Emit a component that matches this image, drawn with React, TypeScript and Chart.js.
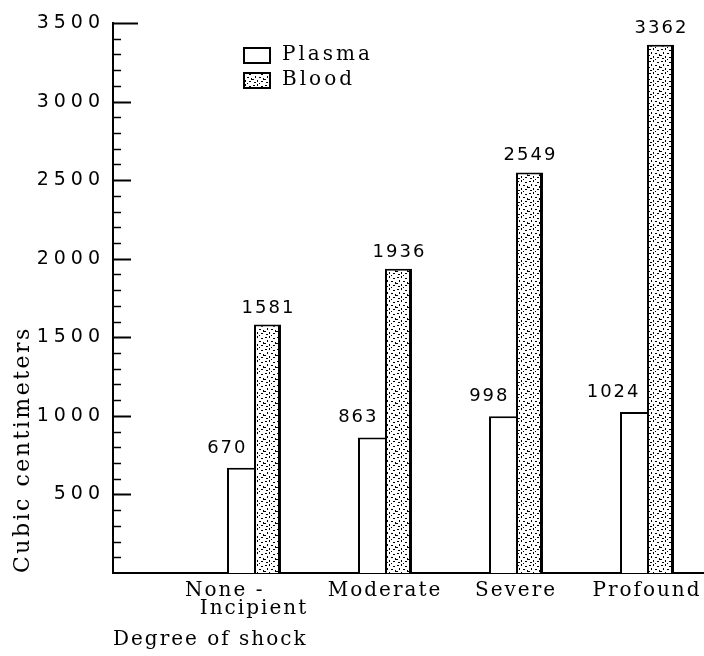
import { useEffect, useRef } from 'react';
import { Chart, registerables } from 'chart.js';

Chart.register(...registerables);

const CATEGORIES = ['None-Incipient', 'Moderate', 'Severe', 'Profound'];
const CATEGORY_TICK_LABELS: (string | string[])[] = [['None -       ', 'Incipient'], 'Moderate', 'Severe', 'Profound'];
const CATEGORY_POSITIONS = [1, 2, 3, 4];
const PLASMA = [670, 863, 998, 1024];
const BLOOD = [1581, 1936, 2549, 3362];
const SERIES_NAMES = ['Plasma', 'Blood'];
const Y_TICK_LABELS = [500, 1000, 1500, 2000, 2500, 3000, 3500];
const Y_TITLE = 'Cubic centimeters';
const X_TITLE = 'Degree of shock';

const SERIF = 'DejaVu Serif';
const SANS = 'DejaVu Sans';

function makeStipple(ctx: CanvasRenderingContext2D): CanvasPattern | string {
  const c = document.createElement('canvas');
  c.width = 12;
  c.height = 12;
  const g = c.getContext('2d');
  if (!g) return '#ccc';
  g.fillStyle = '#fff';
  g.fillRect(0, 0, 12, 12);
  g.fillStyle = '#000';
  const dots: [number, number, number, number][] = [
    [1, 1, 2, 1], [5, 0, 1, 2], [9, 2, 2, 1], [3, 4, 1, 2], [7, 5, 2, 1],
    [11, 6, 1, 2], [0, 7, 2, 1], [5, 8, 1, 2], [9, 9, 2, 1], [2, 10, 2, 1], [7, 11, 1, 1],
  ];
  for (const [x, y, w, h] of dots) g.fillRect(x, y, w, h);
  return ctx.createPattern(c, 'repeat') || '#ccc';
}

// wrap a scale's label/title drawing so each can use its own letter spacing
function spaceScale(s: any, labelSpacing: string, titleSpacing: string) {
  if (s.__spaced) return;
  s.__spaced = true;
  const dl = s.drawLabels.bind(s);
  const dt = s.drawTitle.bind(s);
  s.drawLabels = (a: any) => {
    s.ctx.save();
    s.ctx.letterSpacing = labelSpacing;
    dl(a);
    s.ctx.restore();
  };
  s.drawTitle = (a: any) => {
    s.ctx.save();
    s.ctx.letterSpacing = titleSpacing;
    dt(a);
    s.ctx.restore();
  };
}

export default function App() {
  const ref = useRef<HTMLCanvasElement | null>(null);

  useEffect(() => {
    const canvas = ref.current;
    if (!canvas) return;
    const ctx = canvas.getContext('2d');
    if (!ctx) return;
    const stipple = makeStipple(ctx);
    const fills = ['#ffffff', stipple];

    const tickMarks = {
      id: 'tickMarks',
      afterDatasetsDraw(chart: any) {
        const ys = chart.scales.y;
        const x0 = chart.chartArea.left;
        const c = chart.ctx;
        c.save();
        c.strokeStyle = '#000';
        for (const t of ys.ticks) {
          const v = Math.round(t.value);
          if (v === 0) continue;
          const py = Math.round(ys.getPixelForValue(v)) + 0.5;
          const major = v % 500 === 0;
          const len = v === 3500 ? 25 : major ? 18 : 8;
          c.lineWidth = major ? 2 : 1.5;
          c.beginPath();
          c.moveTo(x0, py);
          c.lineTo(x0 + len, py);
          c.stroke();
        }
        c.restore();
      },
    };

    const valueLabels = {
      id: 'valueLabels',
      afterDatasetsDraw(chart: any) {
        const c = chart.ctx;
        c.save();
        c.letterSpacing = '2px';
        c.fillStyle = '#000';
        c.font = `18px "${SANS}"`;
        c.textBaseline = 'alphabetic';
        chart.data.datasets.forEach((ds: any, di: number) => {
          const meta = chart.getDatasetMeta(di);
          meta.data.forEach((el: any, i: number) => {
            const v = ds.data[i].y;
            if (di === 0) {
              c.textAlign = 'right';
              c.fillText(String(v), el.x + 7, el.y - 15);
            } else {
              c.textAlign = 'center';
              c.fillText(String(v), el.x + 1, el.y - 12);
            }
          });
        });
        c.restore();
      },
    };

    const legendPlugin = {
      id: 'customLegend',
      afterDraw(chart: any) {
        const c = chart.ctx;
        const left = chart.chartArea.left + 131;
        const rows = [48, 73];
        c.save();
        c.letterSpacing = '3px';
        rows.forEach((y, i) => {
          c.fillStyle = fills[i];
          c.fillRect(left, y, 26, 15);
          c.strokeStyle = '#000';
          c.lineWidth = 2;
          c.strokeRect(left, y, 26, 15);
          c.fillStyle = '#000';
          c.font = `20px "${SERIF}"`;
          c.textAlign = 'left';
          c.textBaseline = 'middle';
          c.fillText(SERIES_NAMES[i], left + 38, y + 7);
        });
        c.restore();
      },
    };

    const chart = new Chart(canvas, {
      type: 'bar',
      data: {
        labels: CATEGORIES,
        datasets: [
          {
            label: SERIES_NAMES[0],
            data: CATEGORY_POSITIONS.map((x, i) => ({ x, y: PLASMA[i] })),
            backgroundColor: fills[0],
            borderColor: '#000',
            borderWidth: { left: 2, top: 2, right: 0, bottom: 0 },
            borderSkipped: false,
          },
          {
            label: SERIES_NAMES[1],
            data: CATEGORY_POSITIONS.map((x, i) => ({ x, y: BLOOD[i] })),
            backgroundColor: fills[1],
            borderColor: '#000',
            borderWidth: { left: 2, top: 2, right: 3, bottom: 0 },
            borderSkipped: false,
          },
        ] as any,
      },
      options: {
        animation: false,
        responsive: false,
        maintainAspectRatio: false,
        layout: { padding: { top: 23, left: 0, right: 0, bottom: 0 } },
        datasets: { bar: { categoryPercentage: 0.412, barPercentage: 1, grouped: true } } as any,
        plugins: { legend: { display: false }, tooltip: { enabled: false } },
        scales: {
          x: {
            type: 'linear',
            offset: false,
            min: -0.0763,
            max: 4.435,
            grid: { display: false, drawTicks: false },
            border: { display: true, color: '#000', width: 2 },
            afterBuildTicks: (s: any) => {
              s.ticks = CATEGORY_POSITIONS.map((v) => ({ value: v }));
            },
            ticks: {
              autoSkip: false,
              maxRotation: 0,
              minRotation: 0,
              padding: 9,
              color: '#000',
              font: { family: SERIF, size: 20, lineHeight: 0.9 },
              callback: (v: any) => CATEGORY_TICK_LABELS[Math.round(Number(v)) - 1] ?? '',
            },
            title: {
              display: true,
              text: X_TITLE,
              align: 'start',
              color: '#000',
              font: { family: SERIF, size: 20 },
              padding: { top: 0, bottom: 4 },
            },
            afterFit: (s: any) => {
              s.height = 83;
              s.paddingLeft = 0;
              s.paddingRight = 0;
              spaceScale(s, '2px', '2px');
            },
          } as any,
          y: {
            type: 'linear',
            min: 0,
            max: 3500,
            grid: { display: false, drawTicks: false },
            border: { display: true, color: '#000', width: 2 },
            ticks: {
              stepSize: 100,
              autoSkip: false,
              padding: 8,
              color: '#000',
              font: { family: SANS, size: 19 },
              callback: (v: any) => (Y_TICK_LABELS.includes(Math.round(Number(v))) ? String(Math.round(Number(v))) : ''),
            },
            title: {
              display: true,
              text: Y_TITLE,
              align: 'start',
              color: '#000',
              font: { family: SERIF, size: 22 },
              padding: { top: 10, bottom: 0 },
            },
            afterFit: (s: any) => {
              s.width = 113;
              s.paddingTop = 0;
              s.paddingBottom = 0;
              spaceScale(s, '5px', '2.5px');
            },
          } as any,
        },
      },
      plugins: [tickMarks, valueLabels, legendPlugin],
    });

    return () => chart.destroy();
  }, []);

  return (
    <div style={{ position: 'absolute', left: 0, top: 0, width: 704, height: 656, background: '#fff' }}>
      <canvas ref={ref} width={704} height={656} />
    </div>
  );
}
